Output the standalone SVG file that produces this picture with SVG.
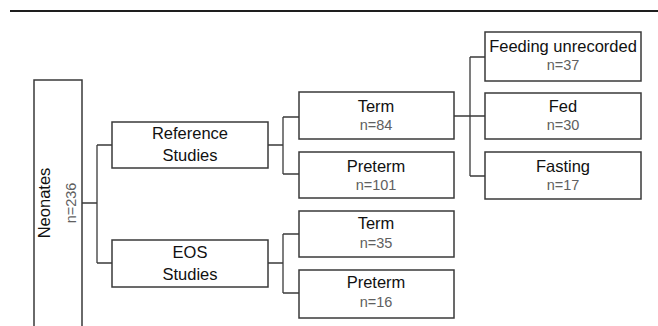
<svg xmlns="http://www.w3.org/2000/svg" width="658" height="326" viewBox="0 0 658 326">
<style>
.box{fill:#fff;stroke:#3a3a3a;stroke-width:1.5}
.t{font-family:"Liberation Sans",Arial,sans-serif;font-size:16.5px;fill:#111;text-anchor:middle}
.n{font-family:"Liberation Sans",Arial,sans-serif;font-size:14.5px;fill:#606060;text-anchor:middle}
.c{fill:none;stroke:#3a3a3a;stroke-width:1.3}
</style>
<rect width="658" height="326" fill="#fff"/>
<line x1="10" y1="11" x2="658" y2="11" stroke="#1e1e1e" stroke-width="2.2"/>
<g id="connectors" class="c">
<path d="M82 203H97M97 145V263M97 145H112M97 263H112"/>
<path d="M268 145H283M283 117V174M283 117H299M283 174H299"/>
<path d="M268 263H283M283 234V293M283 234H299M283 293H299"/>
<path d="M454 116H470M470 57V176M470 57H485M470 116H485M470 176H485"/>
</g>
<g id="neonates">
<path class="box" d="M34 330V80H82V330"/>
<text class="t" transform="translate(50,203) rotate(-90)">Neonates</text>
<text class="n" transform="translate(76,203) rotate(-90)">n=236</text>
</g>
<g id="reference">
<rect class="box" x="112" y="122" width="156" height="46"/>
<text class="t" x="190" y="139">Reference</text>
<text class="t" x="190" y="161">Studies</text>
</g>
<g id="eos">
<rect class="box" x="112" y="240" width="156" height="47"/>
<text class="t" x="190" y="258">EOS</text>
<text class="t" x="190" y="280">Studies</text>
</g>
<g id="ref-term">
<rect class="box" x="299" y="92" width="155" height="47"/>
<text class="t" x="376" y="112">Term</text>
<text class="n" x="376" y="130">n=84</text>
</g>
<g id="ref-preterm">
<rect class="box" x="299" y="152" width="155" height="46"/>
<text class="t" x="376" y="172">Preterm</text>
<text class="n" x="376" y="190">n=101</text>
</g>
<g id="eos-term">
<rect class="box" x="299" y="211" width="155" height="46"/>
<text class="t" x="376" y="229">Term</text>
<text class="n" x="376" y="248">n=35</text>
</g>
<g id="eos-preterm">
<rect class="box" x="299" y="270" width="155" height="48"/>
<text class="t" x="376" y="288">Preterm</text>
<text class="n" x="376" y="307">n=16</text>
</g>
<g id="feeding-unrecorded">
<rect class="box" x="485" y="32" width="156" height="49"/>
<text class="t" x="563" y="52">Feeding unrecorded</text>
<text class="n" x="563" y="70">n=37</text>
</g>
<g id="fed">
<rect class="box" x="485" y="93" width="156" height="46"/>
<text class="t" x="563" y="112">Fed</text>
<text class="n" x="563" y="130">n=30</text>
</g>
<g id="fasting">
<rect class="box" x="485" y="152" width="156" height="47"/>
<text class="t" x="563" y="172">Fasting</text>
<text class="n" x="563" y="190">n=17</text>
</g>
</svg>
